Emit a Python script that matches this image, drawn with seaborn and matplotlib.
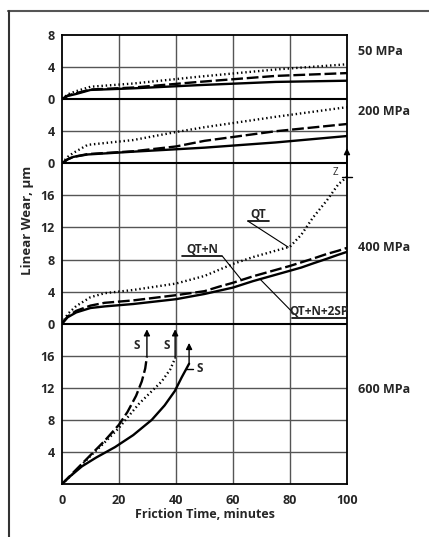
import numpy as np
import pandas as pd
import seaborn as sns
import matplotlib.pyplot as plt
from matplotlib.lines import Line2D

# wear curves, values in um read per panel (contact pressure)
time50 = [0, 2, 5, 10, 25, 48, 75, 100]
qt50 = [0, 0.6, 1.0, 1.55, 1.95, 2.8, 3.7, 4.35]
qtn50 = [0, 0.45, 0.75, 1.2, 1.45, 2.15, 2.9, 3.25]
qtn2sp50 = [0, 0.4, 0.65, 1.15, 1.35, 1.75, 2.15, 2.3]

time200 = [0, 2, 4, 9, 25, 40, 50, 75, 100]
qt200 = [0, 0.8, 1.3, 2.3, 2.9, 3.9, 4.5, 5.8, 7.0]
qtn200 = [0, 0.5, 0.8, 1.15, 1.5, 2.1, 2.8, 4.0, 4.9]
qtn2sp200 = [0, 0.5, 0.8, 1.1, 1.45, 1.75, 1.95, 2.6, 3.4]

time400 = [0, 2, 5, 10, 15, 25, 40, 50, 55, 60, 67, 75, 80, 84, 88, 93, 97, 100]
qt400 = [0, 1.2, 2.2, 3.3, 3.8, 4.2, 5.0, 5.95, 6.7, 7.45, 8.3, 9.1, 9.6, 11.1, 13.2, 15.4, 17.4, 18.3]
qtn400 = [0, 0.9, 1.6, 2.25, 2.6, 2.9, 3.55, 4.05, 4.6, 5.1, 5.9, 6.7, 7.2, 7.65, 8.1, 8.7, 9.1, 9.45]
qtn2sp400 = [0, 0.8, 1.4, 1.95, 2.15, 2.45, 3.05, 3.7, 4.1, 4.5, 5.3, 6.1, 6.6, 7.0, 7.5, 8.1, 8.6, 8.95]

time600_qt = [0, 5, 10, 15, 20, 23, 27, 31, 35, 38, 39.7]
qt600 = [0, 1.7, 3.5, 5.2, 7.0, 8.3, 10.0, 11.4, 12.8, 14.3, 15.7]
time600_qtn = [0, 5, 10, 15, 20, 23, 26, 28, 29.2, 29.8]
qtn600 = [0, 1.8, 3.6, 5.4, 7.4, 9.0, 11.0, 12.8, 14.4, 15.9]
time600_qtn2sp = [0, 3, 7, 12, 18.6, 25, 31.5, 36, 39.6, 42, 44.6]
qtn2sp600 = [0, 1.0, 2.2, 3.3, 4.6, 6.1, 8.0, 9.8, 11.6, 13.3, 15.0]

loads = ["50 MPa", "200 MPa", "400 MPa", "600 MPa"]
offsets = {"50 MPa": 48, "200 MPa": 40, "400 MPa": 20, "600 MPa": 0}
treatments = ["QT", "QT+N", "QT+N+2SP"]

series = {
    "50 MPa": [(time50, qt50), (time50, qtn50), (time50, qtn2sp50)],
    "200 MPa": [(time200, qt200), (time200, qtn200), (time200, qtn2sp200)],
    "400 MPa": [(time400, qt400), (time400, qtn400), (time400, qtn2sp400)],
    "600 MPa": [(time600_qt, qt600), (time600_qtn, qtn600), (time600_qtn2sp, qtn2sp600)],
}

rows = []
for load in loads:
    for trt, (tt, ww) in zip(treatments, series[load]):
        for t, w in zip(tt, ww):
            rows.append({"time": t, "wear": w, "level": w + offsets[load],
                         "treatment": trt, "curve": load + trt})
df = pd.DataFrame(rows)

sns.set_theme(style="white")
plt.rcParams["font.family"] = ["Open Sans", "DejaVu Sans"]

fig = plt.figure(figsize=(4.29, 5.37), dpi=100)
ax = fig.add_axes([0.1445, 0.0987, 0.6643, 0.8361])

sns.lineplot(data=df, x="time", y="level", style="treatment", units="curve",
             estimator=None, sort=False, color="black", linewidth=1.7,
             dashes={"QT": (0.6, 1.2), "QT+N": (5, 1.6), "QT+N+2SP": ""},
             style_order=treatments, legend=False, ax=ax)

# grid
ax.set_xlim(0, 100)
ax.set_ylim(0, 56)
for x in [20, 40, 60, 80]:
    ax.axvline(x, color="#555555", lw=1.0, zorder=0)
for y in range(4, 56, 4):
    zero = y in (20, 40, 48)
    ax.axhline(y, color="black" if zero else "#555555", lw=1.5 if zero else 1.0, zorder=0)

ax.set_xticks([0, 20, 40, 60, 80, 100])
ax.set_xticklabels(["0", "20", "40", "60", "80", "100"], fontsize=9, fontweight="bold")
ytick_pos = list(range(4, 57, 4))
ytick_lab = ["4", "8", "12", "16", "0", "4", "8", "12", "16", "0", "4", "0", "4", "8"]
ax.set_yticks(ytick_pos)
ax.set_yticklabels(ytick_lab, fontsize=9, fontweight="bold")
ax.tick_params(axis="both", length=3, width=1, color="black", pad=2, direction="out")
ax.tick_params(axis="x", length=0, pad=7)
for s in ax.spines.values():
    s.set_color("black")
    s.set_linewidth(1.3)

ax.set_xlabel("Friction Time, minutes", fontsize=9, fontweight="bold", labelpad=1)
ax.set_ylabel("")
fig.text(0.063, 0.59, "Linear Wear, µm", rotation=90, ha="center", va="center",
         fontsize=9.5, fontweight="bold")

# pressure labels on the right
for load, yy in zip(loads, [54.0, 46.5, 29.5, 11.8]):
    ax.text(104, yy, load, fontsize=9, fontweight="bold", va="center", ha="left",
            clip_on=False)

# treatment labels with underline and leader line
def label(txt, tx, ty, x0, x1, uy, lx, ly, px, py):
    ax.text(tx, ty, txt, fontsize=8.5, fontweight="bold", ha="center", va="center")
    ax.plot([x0, x1], [uy, uy], color="black", lw=1.2)
    ax.plot([lx, px], [ly, py], color="black", lw=0.8)

qt_y = np.interp(79.4, time400, qt400) + offsets["400 MPa"]
label("QT", 68.8, 33.6, 65.2, 72.6, 32.8, 65.2, 32.8, 79.4, qt_y)
qtn_y = np.interp(63, time400, qtn400) + offsets["400 MPa"]
label("QT+N", 49.2, 29.2, 42.0, 56.3, 28.4, 56.3, 28.4, 63, qtn_y)
sp_y = np.interp(69.5, time400, qtn2sp400) + offsets["400 MPa"]
label("QT+N+2SP", 90.2, 21.5, 80.8, 100, 20.7, 81.5, 21.2, 69.5, sp_y)

# failure arrows
def arrow(tt, ww, off, tip):
    x, y = tt[-1], ww[-1] + off
    ax.annotate("", xy=(x, tip), xytext=(x, y),
                arrowprops=dict(arrowstyle="-|>", color="black", lw=1.0,
                                mutation_scale=9, shrinkA=0, shrinkB=0),
                annotation_clip=False)
    return x, y

zx, zy = arrow(time400, qt400, offsets["400 MPa"], 41.9)
ax.plot([zx - 1.8, zx + 1.8], [zy, zy], color="black", lw=1.0, clip_on=False)
ax.text(zx - 4.2, zy + 0.6, "Z", fontsize=7, ha="center", va="center")

sx1, _ = arrow(time600_qtn, qtn600, 0, 19.3)
sx2, _ = arrow(time600_qt, qt600, 0, 19.3)
sx3, sy3 = arrow(time600_qtn2sp, qtn2sp600, 0, 17.6)
tick_y = sy3 - 0.6
ax.plot([sx3 - 1.2, sx3 + 1.2], [tick_y, tick_y], color="black", lw=1.0)
ax.text(sx1 - 3.6, 17.3, "S", fontsize=8.5, fontweight="bold", ha="center", va="center")
ax.text(sx2 - 3.0, 17.3, "S", fontsize=8.5, fontweight="bold", ha="center", va="center")
ax.text(sx3 + 3.6, tick_y, "S", fontsize=8.5, fontweight="bold", ha="center", va="center")

# outer frame of the figure
fig.add_artist(Line2D([0.019, 1.0], [0.9795, 0.9795], transform=fig.transFigure,
                      color="#555555", lw=1.5))
fig.add_artist(Line2D([0.021, 0.021], [0.0, 0.9795], transform=fig.transFigure,
                      color="#333333", lw=1.5))

fig.savefig("out.png", dpi=100)
